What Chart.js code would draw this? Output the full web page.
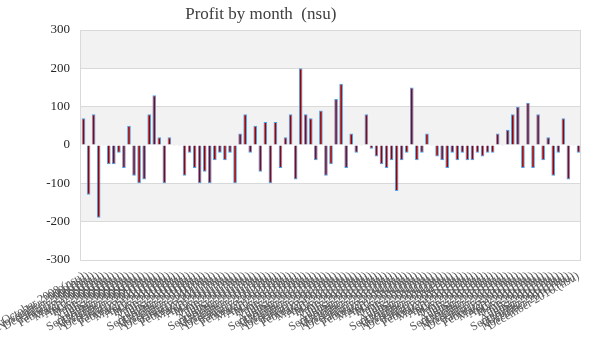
<!DOCTYPE html>
<html>
<head>
<meta charset="utf-8">
<script src="https://cdn.jsdelivr.net/npm/chart.js@4.4.1/dist/chart.umd.min.js"></script>
<style>
  html, body { margin: 0; padding: 0; background: #ffffff; }
  #wrap { width: 600px; height: 360px; position: relative; }
</style>
</head>
<body>
<div id="wrap"><canvas id="c" width="600" height="360"></canvas></div>
<script>
const titleText = "Profit by month  (nsu)";

const monthLabels = [
  "October 2008 (nsu)", "November 2008 (nsu)", "December 2008 (nsu)",
  "January 2009 (nsu)", "February 2009 (nsu)", "March 2009 (nsu)", "April 2009 (nsu)", "May 2009 (nsu)", "June 2009 (nsu)",
  "July 2009 (nsu)", "August 2009 (nsu)", "September 2009 (nsu)", "October 2009 (nsu)", "November 2009 (nsu)", "December 2009 (nsu)",
  "January 2010 (nsu)", "February 2010 (nsu)", "March 2010 (nsu)", "April 2010 (nsu)", "May 2010 (nsu)", "June 2010 (nsu)",
  "July 2010 (nsu)", "August 2010 (nsu)", "September 2010 (nsu)", "October 2010 (nsu)", "November 2010 (nsu)", "December 2010 (nsu)",
  "January 2011 (nsu)", "February 2011 (nsu)", "March 2011 (nsu)", "April 2011 (nsu)", "May 2011 (nsu)", "June 2011 (nsu)",
  "July 2011 (nsu)", "August 2011 (nsu)", "September 2011 (nsu)", "October 2011 (nsu)", "November 2011 (nsu)", "December 2011 (nsu)",
  "January 2012 (nsu)", "February 2012 (nsu)", "March 2012 (nsu)", "April 2012 (nsu)", "May 2012 (nsu)", "June 2012 (nsu)",
  "July 2012 (nsu)", "August 2012 (nsu)", "September 2012 (nsu)", "October 2012 (nsu)", "November 2012 (nsu)", "December 2012 (nsu)",
  "January 2013 (nsu)", "February 2013 (nsu)", "March 2013 (nsu)", "April 2013 (nsu)", "May 2013 (nsu)", "June 2013 (nsu)",
  "July 2013 (nsu)", "August 2013 (nsu)", "September 2013 (nsu)", "October 2013 (nsu)", "November 2013 (nsu)", "December 2013 (nsu)",
  "January 2014 (nsu)", "February 2014 (nsu)", "March 2014 (nsu)", "April 2014 (nsu)", "May 2014 (nsu)", "June 2014 (nsu)",
  "July 2014 (nsu)", "August 2014 (nsu)", "September 2014 (nsu)", "October 2014 (nsu)", "November 2014 (nsu)", "December 2014 (nsu)",
  "January 2015 (nsu)", "February 2015 (nsu)", "March 2015 (nsu)", "April 2015 (nsu)", "May 2015 (nsu)", "June 2015 (nsu)",
  "July 2015 (nsu)", "August 2015 (nsu)", "September 2015 (nsu)", "October 2015 (nsu)", "November 2015 (nsu)", "December 2015 (nsu)",
  "January 2016 (nsu)", "February 2016 (nsu)", "March 2016 (nsu)", "April 2016 (nsu)", "May 2016 (nsu)", "June 2016 (nsu)",
  "July 2016 (nsu)", "August 2016 (nsu)", "September 2016 (nsu)", "October 2016 (nsu)", "November 2016 (nsu)", "December 2016 (nsu)"
];

const profitValues = [
  70, -130, 80, -190, -2, -50, -50, -20, -60, 50, -80, -100, -90, 80, 130, 20, -100, 20, -2,
  -2, -80, -20, -60, -100, -70, -100, -40, -20, -40, -20, -100, 30, 80, -20, 50, -70, 60, -100, 60, -60,
  20, 80, -90, 200, 80, 70, -40, 90, -80, -50, 120, 160, -60, 30, -20, -2, 80, -10, -30,
  -50, -60, -40, -120, -40, -20, 150, -40, -20, 30, -2, -30, -40, -60, -20, -40, -20, -40, -40, -20,
  -30, -20, -20, 30, -2, 40, 80, 100, -60, 110, -60, 80, -40, 20, -80, -20, 70, -90, -2, -20
];

const yMin = -300, yMax = 300, yStep = 100;

const SERIF = "'Liberation Serif', 'Times New Roman', serif";

const bandPlugin = {
  id: 'bands',
  beforeDraw(chart) {
    const { ctx, chartArea: a, scales: { y } } = chart;
    ctx.save();
    ctx.fillStyle = '#ffffff';
    ctx.fillRect(0, 0, chart.width, chart.height);
    const ticks = y.ticks.map(t => t.value).sort((p, q) => p - q);
    for (let i = 0; i < ticks.length - 1; i++) {
      if (i % 2 === 1) {
        const top = y.getPixelForValue(ticks[i + 1]);
        const bot = y.getPixelForValue(ticks[i]);
        ctx.fillStyle = '#f2f2f2';
        ctx.fillRect(a.left - 1, top, a.right - a.left, bot - top);
      }
    }
    ctx.restore();
  },
  afterDatasetsDraw(chart) {
    const { ctx, chartArea: a, scales: { y } } = chart;
    const t = Math.round(y.getPixelForValue(yMax) - 0.5) + 0.5;
    const b = Math.round(y.getPixelForValue(yMin) - 0.5) + 0.5;
    const l = Math.round(a.left) - 0.5;
    const r = Math.round(a.right) - 0.5;
    ctx.save();
    ctx.strokeStyle = '#d9d9d9';
    ctx.lineWidth = 1;
    ctx.beginPath();
    ctx.moveTo(l, t); ctx.lineTo(r, t); ctx.lineTo(r, b); ctx.lineTo(l, b); ctx.closePath();
    ctx.stroke();
    ctx.restore();
  }
};

new Chart(document.getElementById('c'), {
  type: 'bar',
  data: {
    labels: monthLabels,
    datasets: [{
      label: 'Profit',
      data: profitValues,
      backgroundColor: '#990000',
      borderColor: '#4da3f0',
      borderWidth: 1
    }]
  },
  options: {
    responsive: false,
    animation: false,
    layout: { padding: { left: 0, right: 19, top: 0, bottom: 0 } },
    plugins: {
      legend: { display: false },
      tooltip: { enabled: false },
      title: {
        display: true,
        text: titleText + "              ",
        color: '#404040',
        font: { family: SERIF, size: 17, weight: 'normal' },
        padding: { top: 4, bottom: 5.6 }
      }
    },
    scales: {
      x: {
        grid: { display: false },
        border: { display: false },
        ticks: {
          autoSkip: false,
          maxRotation: 30,
          minRotation: 30,
          color: '#595959',
          font: { family: SERIF, size: 12 },
          padding: 1
        },
        afterFit(scale) {
          scale.height = 100;
          scale.paddingLeft = 0;
          scale.paddingRight = 0;
        }
      },
      y: {
        min: yMin,
        max: yMax,
        ticks: {
          stepSize: yStep,
          color: '#262626',
          font: { family: SERIF, size: 13 },
          padding: 11
        },
        grid: {
          color: ctx => (ctx.tick && ctx.tick.value === 0) ? 'rgba(0,0,0,0)' : '#d9d9d9',
          drawTicks: false
        },
        border: { display: false },
        afterFit(scale) { scale.width = 81; }
      }
    }
  },
  plugins: [bandPlugin]
});
</script>
</body>
</html>
